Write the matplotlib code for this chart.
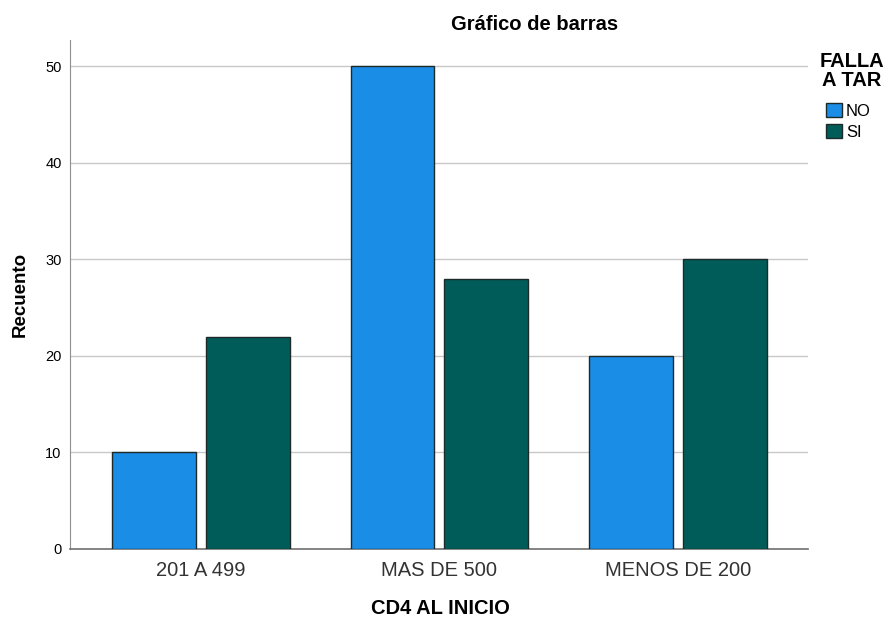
import matplotlib.pyplot as plt
import numpy as np

categories = ["201 A 499", "MAS DE 500", "MENOS DE 200"]
no_counts = [10, 50, 20]
si_counts = [22, 28, 30]
yticks = [0, 10, 20, 30, 40, 50]

plt.rcParams["font.family"] = ["Liberation Sans", "DejaVu Sans"]

fig = plt.figure(figsize=(8.87, 6.18), dpi=100)
ax = fig.add_axes([70 / 887, 69 / 618, 738 / 887, 509 / 618])

x = np.arange(len(categories))
off = 0.197
w = 0.352
ax.bar(x - off, no_counts, w, color="#1a8de6", edgecolor="#1c2a2a", linewidth=1.0, label="NO", zorder=3)
ax.bar(x + off, si_counts, w, color="#005c59", edgecolor="#1c2a2a", linewidth=1.0, label="SI", zorder=3)

ax.set_xlim(-0.549, 2.545)
ax.set_ylim(0, 52.7)
ax.set_yticks(yticks)
ax.set_xticks(x)
ax.set_xticklabels(categories, fontsize=14.5, color="#333333")
ax.tick_params(axis="y", labelsize=10.5, length=0, pad=6)
ax.tick_params(axis="x", length=0, pad=9)
ax.grid(axis="y", color="#c8c8c8", linewidth=1.0, zorder=0)

for s in ["top", "right"]:
    ax.spines[s].set_visible(False)
ax.spines["left"].set_color("#909090")
ax.spines["bottom"].set_color("#707070")
ax.spines["bottom"].set_linewidth(1.2)

ax.set_ylabel("Recuento", fontsize=13.5, fontweight="bold", labelpad=12)
fig.text(440 / 887, 1 - 608 / 618, "CD4 AL INICIO", ha="center", va="center",
         fontsize=14.5, fontweight="bold")

fig.text(535 / 887, 1 - 24 / 618, "Gráfico de barras", ha="center", va="center",
         fontsize=14.5, fontweight="bold")

leg = fig.legend(loc="upper left", bbox_to_anchor=(826 / 887, 1 - 103 / 618),
                 frameon=False, fontsize=12, handlelength=0.95, handleheight=0.95,
                 handletextpad=0.25, labelspacing=0.3, borderaxespad=0, borderpad=0)
fig.text(852 / 887, 1 - 71 / 618, "FALLA\nA TAR", ha="center", va="center",
         fontsize=14.5, fontweight="bold", linespacing=1.0)

fig.savefig("out.png", dpi=100)
